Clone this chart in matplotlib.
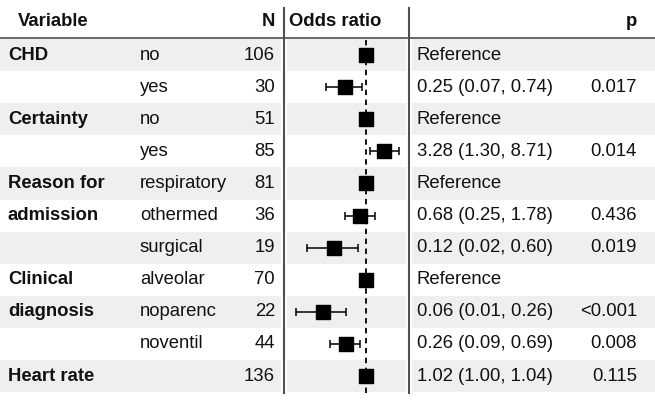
import numpy as np
import matplotlib
matplotlib.use("Agg")
import matplotlib.pyplot as plt

plt.rcParams['font.family'] = ['Liberation Sans', 'DejaVu Sans']

variables = ["CHD", "", "Certainty", "", "Reason for", "admission", "",
             "Clinical", "diagnosis", "", "Heart rate"]
levels = ["no", "yes", "no", "yes", "respiratory", "othermed", "surgical",
          "alveolar", "noparenc", "noventil", ""]
n_obs = [106, 30, 51, 85, 81, 36, 19, 70, 22, 44, 136]
odds = [1.0, 0.25, 1.0, 3.28, 1.0, 0.68, 0.12, 1.0, 0.06, 0.26, 1.02]
ci_low = [np.nan, 0.07, np.nan, 1.30, np.nan, 0.25, 0.02, np.nan, 0.01, 0.09, 1.00]
ci_high = [np.nan, 0.74, np.nan, 8.71, np.nan, 1.78, 0.60, np.nan, 0.26, 0.69, 1.04]
est_text = ["Reference", "0.25 (0.07, 0.74)", "Reference", "3.28 (1.30, 8.71)",
            "Reference", "0.68 (0.25, 1.78)", "0.12 (0.02, 0.60)", "Reference",
            "0.06 (0.01, 0.26)", "0.26 (0.09, 0.69)", "1.02 (1.00, 1.04)"]
p_text = ["", "0.017", "", "0.014", "", "0.436", "0.019", "", "<0.001", "0.008", "0.115"]

W, H = 655, 400
top, rh = 39, 32.1
nrows = len(levels)
ylim = ((H - top) / rh - 0.5, -top / rh - 0.5)

def py(p):
    return (p - top) / rh - 0.5

fig = plt.figure(figsize=(W / 100, H / 100), dpi=100)
ax = fig.add_axes([0, 0, 1, 1])
ax.set_xlim(0, W)
ax.set_ylim(*ylim)
ax.axis('off')

fs = 13.3
shade = '#efefef'
line_c = '#505050'
txt_c = '#111111'

# row shading, split by column
for i in range(nrows):
    if i % 2 == 0:
        for x0, x1 in [(0, 281), (287, 406), (412, W)]:
            ax.fill_between([x0, x1], i - 0.5, i + 0.5, color=shade, lw=0, zorder=0)

# header
ax.text(18, py(22), "Variable", fontsize=fs, fontweight='bold', va='center', color=txt_c)
ax.text(275, py(22), "N", fontsize=fs, fontweight='bold', va='center', ha='right', color=txt_c)
ax.text(335, py(22), "Odds ratio", fontsize=fs, fontweight='bold', va='center', ha='center', color=txt_c)
ax.text(637, py(22), "p", fontsize=fs, fontweight='bold', va='center', ha='right', color=txt_c)
ax.plot([0, W], [py(38), py(38)], color=line_c, lw=1.2)
for xv in [284, 409]:
    ax.plot([xv, xv], [py(8), py(393)], color=line_c, lw=1.5)

for i in range(nrows):
    ax.text(8, i, variables[i], fontsize=fs, fontweight='bold', va='center', color=txt_c)
    ax.text(140, i, levels[i], fontsize=fs, va='center', color=txt_c)
    ax.text(275, i, str(n_obs[i]), fontsize=fs, va='center', ha='right', color=txt_c)
    ax.text(417, i, est_text[i], fontsize=fs, va='center', color=txt_c)
    ax.text(637, i, p_text[i], fontsize=fs, va='center', ha='right', color=txt_c)

# forest panel
fx0, fx1 = 286, 407
fax = fig.add_axes([fx0 / W, 0, (fx1 - fx0) / W, 1])
fax.patch.set_alpha(0)
fax.set_xscale('log')
fax.set_xlim(10 ** -2.29, 10 ** 1.17)
fax.set_ylim(*ylim)
fax.axis('off')
fax.plot([1, 1], [py(40), py(395)], color='black', lw=1.3, ls=(0, (3, 2.5)), zorder=1)
rows = np.arange(nrows)
lo = np.array(ci_low)
hi = np.array(ci_high)
od = np.array(odds)
ok = ~np.isnan(lo)
fax.errorbar(od[ok], rows[ok], xerr=[od[ok] - lo[ok], hi[ok] - od[ok]],
             fmt='none', ecolor='black', elinewidth=1.1, capsize=3, capthick=1.1, zorder=2)
fax.scatter(od, rows, marker='s', s=110, color='black', zorder=3)

fig.savefig("out.png", dpi=100)
